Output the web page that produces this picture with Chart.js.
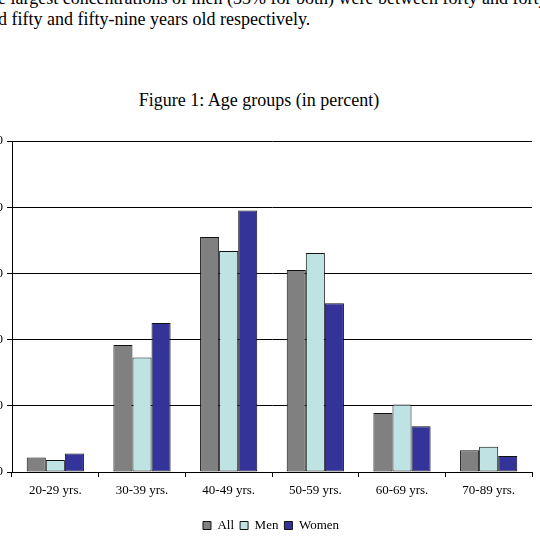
<!DOCTYPE html>
<html>
<head>
<meta charset="utf-8">
<script src="https://cdn.jsdelivr.net/npm/chart.js@4/dist/chart.umd.min.js"></script>
<style>
  html, body { margin: 0; padding: 0; background: #fff; }
  body { width: 540px; height: 543px; overflow: hidden; position: relative; font-family: "Liberation Serif", "Times New Roman", serif; color: #000; }
  .para { position: absolute; left: -2px; top: -12px; font-size: 18px; line-height: 21px; white-space: nowrap; }
  .title { position: absolute; left: 0; top: 90px; width: 518px; text-align: center; font-size: 18px; line-height: 20px; }
  .wrap { position: absolute; left: -28px; top: 120px; }
</style>
</head>
<body>
<div class="para">
  <div>e largest concentrations of men (33% for both) were between forty and forty-nine</div>
  <div>d fifty and fifty-nine years old respectively.</div>
</div>
<div class="title">Figure 1: Age groups (in percent)</div>
<div class="wrap"><canvas id="chart" width="566" height="423"></canvas></div>
<script>
// Données
const categories = ['20-29 yrs.', '30-39 yrs.', '40-49 yrs.', '50-59 yrs.', '60-69 yrs.', '70-89 yrs.'];
const allValues = [2.2, 19.2, 35.5, 30.5, 8.9, 3.3];
const menValues = [1.8, 17.3, 33.4, 33.1, 10.2, 3.8];
const womenValues = [2.8, 22.5, 39.5, 25.5, 6.9, 2.4];

const seriesNames = ['All', 'Men', 'Women'];
const seriesColors = ['#808080', '#bfe3e3', '#333399'];

const font = { family: '"Liberation Serif", "Times New Roman", serif', size: 13 };

const datasets = [allValues, menValues, womenValues].map((values, i) => ({
    label: seriesNames[i],
    data: values,
    backgroundColor: seriesColors[i],
    borderColor: '#111',
    borderWidth: 1,
    borderSkipped: false,
    categoryPercentage: 0.66,
    barPercentage: 1.0
}));

// petit décalage de la légende vers la droite
const legendShift = {
    id: 'legendShift',
    afterLayout(chart) {
        chart.legend.left += 5;
        chart.legend.right += 5;
    }
};

var ctx = document.getElementById('chart').getContext('2d');
var myChart = new Chart(ctx, {
    type: 'bar',
    data: { labels: categories, datasets: datasets },
    plugins: [legendShift],
    options: {
        responsive: false,
        devicePixelRatio: 1,
        animation: false,
        layout: { padding: { top: 21, right: 6, bottom: 1, left: 28 } },
        plugins: {
            title: { display: false },
            tooltip: { enabled: false },
            legend: {
                position: 'bottom',
                labels: { font: font, color: '#000', boxWidth: 8, boxHeight: 8, padding: 6 }
            }
        },
        scales: {
            x: {
                afterFit: s => { s.height = 41; },
                grid: { offset: true, drawOnChartArea: false, color: '#000', tickLength: 5 },
                border: { color: '#000', width: 1 },
                ticks: { font: font, color: '#000', padding: 6, maxRotation: 0 }
            },
            y: {
                min: 0,
                max: 50,
                afterFit: s => { s.width = 12; },
                grid: { color: '#000', lineWidth: 1, tickLength: 5 },
                border: { color: '#000', width: 1 },
                ticks: { stepSize: 10, font: font, color: '#000', padding: 4 }
            }
        }
    }
});
</script>
</body>
</html>
